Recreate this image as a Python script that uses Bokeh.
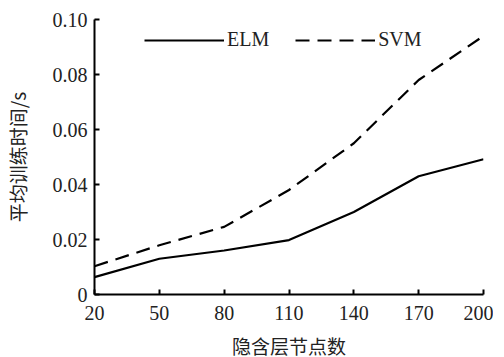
from bokeh.plotting import figure
from bokeh.models import Range1d, FixedTicker, Legend, LegendItem
from bokeh.embed import file_html
from bokeh.resources import INLINE

nodes = [20, 50, 80, 110, 140, 170, 200]
elm = [0.0063, 0.0130, 0.0160, 0.0198, 0.0300, 0.0430, 0.0492]
svm = [0.0103, 0.0179, 0.0246, 0.0380, 0.0550, 0.0780, 0.0940]
y_ticks = [0, 0.02, 0.04, 0.06, 0.08, 0.10]
y_tick_labels = ["0", "0.02", "0.04", "0.06", "0.08", "0.10"]

SERIF = "Liberation Serif"
CJK = "Noto Sans CJK SC"

p = figure(frame_width=389, frame_height=275, output_backend="svg", toolbar_location=None,
           x_range=Range1d(20, 200), y_range=Range1d(0, 0.10),
           min_border_left=94, min_border_right=10, min_border_top=19, min_border_bottom=54)
p.outline_line_color = None
p.grid.grid_line_color = None
p.background_fill_color = "white"
p.border_fill_color = "white"

r1 = p.line(nodes, elm, line_color="black", line_width=2.2)
r2 = p.line(nodes, svm, line_color="black", line_width=2.2, line_dash="14 8")

p.xaxis.ticker = FixedTicker(ticks=nodes)
p.yaxis.ticker = FixedTicker(ticks=y_ticks)
p.yaxis.major_label_overrides = {t: l for t, l in zip(y_ticks, y_tick_labels)}

for ax in (p.xaxis, p.yaxis):
    ax.axis_line_width = 2
    ax.axis_line_color = "black"
    ax.major_tick_in = 5
    ax.major_tick_out = 0
    ax.major_tick_line_width = 2
    ax.minor_tick_line_color = None
    ax.major_label_text_font = SERIF
    ax.major_label_text_font_size = "20px"
    ax.major_label_text_color = "#222222"
    ax.axis_label_text_font = CJK
    ax.axis_label_text_font_size = "19px"
    ax.axis_label_text_font_style = "normal"
    ax.axis_label_text_color = "#222222"

p.xaxis.axis_label = "隐含层节点数"
p.yaxis.axis_label = "平均训练时间/s"
p.xaxis.major_label_standoff = 11
p.yaxis.major_label_standoff = 7
p.xaxis.axis_label_standoff = 9
p.yaxis.axis_label_standoff = 19

legend = Legend(items=[LegendItem(label="ELM", renderers=[r1]),
                       LegendItem(label="SVM", renderers=[r2])],
                orientation="horizontal", location=(50, 243),
                glyph_width=80, glyph_height=20, label_height=20,
                label_standoff=3, spacing=26, padding=0, margin=0,
                border_line_color=None, background_fill_alpha=0,
                label_text_font=SERIF, label_text_font_size="20px",
                label_text_color="#222222")
p.add_layout(legend)

open("out.html", "w").write(file_html(p, INLINE))
